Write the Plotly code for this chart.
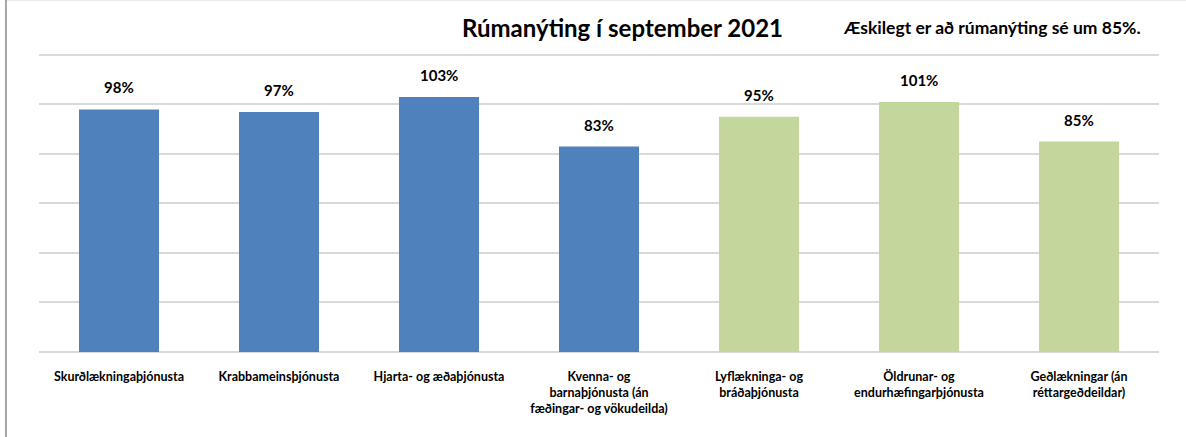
import plotly.graph_objects as go

# data
categories = [
    "Skurðlækningaþjónusta",
    "Krabbameinsþjónusta",
    "Hjarta- og æðaþjónusta",
    "Kvenna- og<br>barnaþjónusta (án<br>fæðingar- og vökudeilda)",
    "Lyflækninga- og<br>bráðaþjónusta",
    "Öldrunar- og<br>endurhæfingarþjónusta",
    "Geðlækningar (án<br>réttargeðdeildar)",
]
occupancy = [98, 97, 103, 83, 95, 101, 85]
bar_colors = ["#4F81BD"] * 4 + ["#C3D69B"] * 3
y_max = 120

FONT = "Lato"

fig = go.Figure()
fig.add_trace(go.Bar(
    x=categories, y=occupancy,
    marker_color=bar_colors, marker_line_width=0,
    hoverinfo="skip",
))

# value labels above bars
for cat, val in zip(categories, occupancy):
    fig.add_annotation(
        x=cat, y=val, text=f"<b>{val}%</b>", showarrow=False,
        yanchor="bottom", yshift=11,
        font=dict(family=FONT, size=15, color="#000000"),
    )

# title and note
fig.add_annotation(
    xref="paper", yref="paper", x=0.521, y=1.074,
    text="<b>Rúmanýting í september 2021</b>", showarrow=False,
    xanchor="center", yanchor="middle",
    font=dict(family=FONT, size=24, color="#000000"),
)
fig.add_annotation(
    xref="paper", yref="paper", x=0.851, y=1.074,
    text="<b>Æskilegt er að rúmanýting sé um 85%.</b>", showarrow=False,
    xanchor="center", yanchor="middle",
    font=dict(family=FONT, size=17.5, color="#000000"),
)

# top gridline
fig.add_shape(type="line", xref="paper", yref="y", layer="above",
              x0=0, x1=1, y0=y_max, y1=y_max,
              line=dict(color="#D9D9D9", width=1.5))

# chart border (top and left edges visible)
fig.add_shape(type="line", xref="paper", yref="paper",
              x0=-0.0295, x1=1.1, y0=1.168, y1=1.168,
              line=dict(color="#A6A6A6", width=2))
fig.add_shape(type="line", xref="paper", yref="paper",
              x0=-0.0295, x1=-0.0295, y0=1.168, y1=-0.3,
              line=dict(color="#A6A6A6", width=2))

fig.update_layout(
    width=1186, height=437,
    margin=dict(l=39, r=27, t=50, b=85),
    paper_bgcolor="white", plot_bgcolor="white",
    bargap=0.5, showlegend=False,
    font=dict(family=FONT, color="#000000"),
)
fig.update_xaxes(
    tickfont=dict(family=FONT, size=12.5, color="#000000"),
    tickprefix="<b>", ticksuffix="</b>",
    showline=False, ticks="", showgrid=False,
    ticklabelstandoff=15,
)
fig.update_yaxes(
    range=[0, 122], dtick=20, showticklabels=False,
    showgrid=True, gridcolor="#D9D9D9", gridwidth=1.5,
    zeroline=True, zerolinecolor="#D9D9D9", zerolinewidth=1.5,
)

fig.write_html("out.html", config={"displayModeBar": False},
               post_script="document.body.style.margin='0';")
